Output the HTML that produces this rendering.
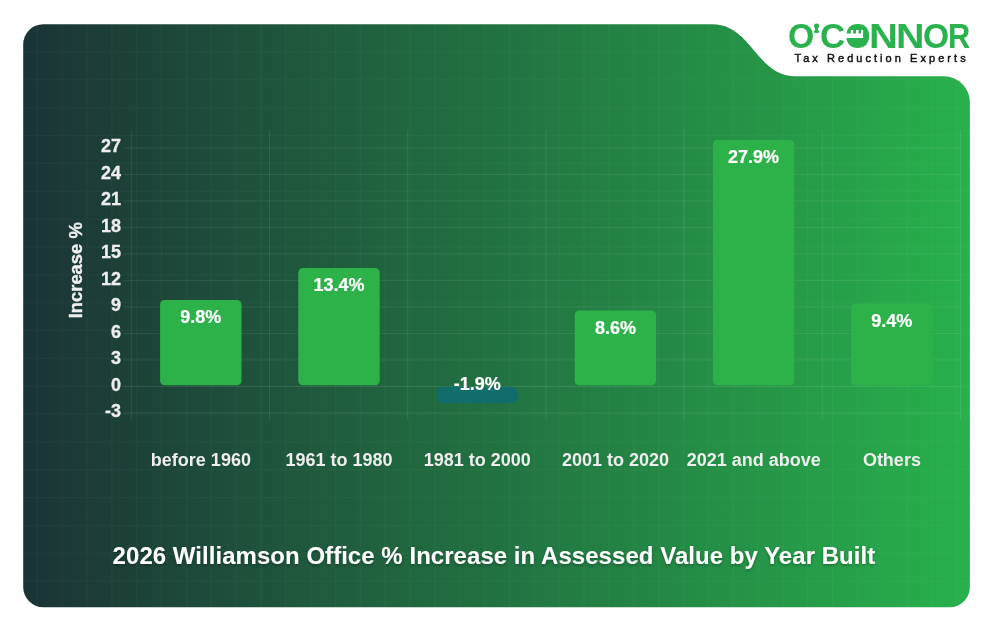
<!DOCTYPE html>
<html lang="en"><head><meta charset="utf-8"><title>2026 Williamson Office % Increase in Assessed Value by Year Built</title>
<style>
html,body{margin:0;padding:0;background:#fff;}
body{width:994px;height:632px;overflow:hidden;position:relative;}
svg{display:block;position:absolute;left:0;top:0;}
text{font-family:"Liberation Sans",Arial,sans-serif;font-weight:bold;}
.t{fill:#eeeeee;font-size:18px;}
.yl{stroke:#eeeeee;stroke-width:0.3px;}
.dl{fill:#ffffff;font-size:18px;text-anchor:middle;stroke:#ffffff;stroke-width:0.2px;}
.xl{text-anchor:middle;}
#logo{position:absolute;left:0;top:0;width:994px;height:80px;font:bold 34.6px/34px "Liberation Sans",Arial,sans-serif;color:#29b24d;}
#logo span{position:absolute;top:18.55px;transform-origin:0 0;display:block;white-space:pre;}
.yl{text-anchor:end;}
</style></head><body>
<svg width="994" height="632" viewBox="0 0 994 632">
<defs>
<linearGradient id="bg" x1="23" y1="0" x2="970" y2="0" gradientUnits="userSpaceOnUse">
<stop offset="0" stop-color="#1b3336"/><stop offset="1" stop-color="#28b14c"/>
</linearGradient>
<pattern id="grid" x="36.8" y="51.5" width="24.85" height="27.85" patternUnits="userSpaceOnUse">
<path d="M0.5 0V27.85M0 0.5H24.85" stroke="#ffffff" stroke-opacity="0.03" stroke-width="1" fill="none"/>
</pattern>
<clipPath id="card"><path id="cardp" d="M43.2 24.3H712C752 24.3 756 76.3 796 76.3H943.9A26 26 0 0 1 969.9 102.3V587.2A20 20 0 0 1 949.9 607.2H43.2A20 20 0 0 1 23.2 587.2V44.3A20 20 0 0 1 43.2 24.3Z"/></clipPath>
<filter id="ts" x="-5%" y="-50%" width="110%" height="220%"><feDropShadow dx="0" dy="1.5" stdDeviation="1.5" flood-color="#000" flood-opacity="0.3"/></filter>
</defs>
<path d="M43.2 24.3H712C752 24.3 756 76.3 796 76.3H943.9A26 26 0 0 1 969.9 102.3V587.2A20 20 0 0 1 949.9 607.2H43.2A20 20 0 0 1 23.2 587.2V44.3A20 20 0 0 1 43.2 24.3Z" fill="url(#bg)"/>
<rect x="23" y="24" width="947" height="583" fill="url(#grid)" clip-path="url(#card)"/>
<path d="M123.3 147.90H960.5M123.3 174.41H960.5M123.3 200.91H960.5M123.3 227.42H960.5M123.3 253.92H960.5M123.3 280.43H960.5M123.3 306.93H960.5M123.3 333.44H960.5M123.3 359.94H960.5M123.3 386.45H960.5M123.3 412.95H960.5M131.30 130.2V419.8M269.50 130.2V419.8M407.70 130.2V419.8M545.90 130.2V419.8M684.10 130.2V419.8M822.30 130.2V419.8M960.50 130.2V419.8" stroke="#ffffff" stroke-opacity="0.09" stroke-width="1" fill="none"/>
<rect x="160.1" y="299.9" width="81.4" height="85.4" rx="4.6" ry="4.6" fill="#2db24a"/>
<rect x="298.3" y="268.1" width="81.4" height="117.2" rx="4.6" ry="4.6" fill="#2db24a"/>
<rect x="436.5" y="386.8" width="81.4" height="16.5" rx="6" ry="6" fill="#116d6c"/>
<rect x="574.7" y="310.5" width="81.4" height="74.8" rx="4.6" ry="4.6" fill="#2db24a"/>
<rect x="712.9" y="140.0" width="81.4" height="245.3" rx="4.6" ry="4.6" fill="#2db24a"/>
<rect x="851.1" y="303.4" width="81.4" height="81.8" rx="4.6" ry="4.6" fill="#2db24a"/>
<text class="t yl" x="121.0" y="152.2">27</text>
<text class="t yl" x="121.0" y="178.7">24</text>
<text class="t yl" x="121.0" y="205.2">21</text>
<text class="t yl" x="121.0" y="231.7">18</text>
<text class="t yl" x="121.0" y="258.2">15</text>
<text class="t yl" x="121.0" y="284.7">12</text>
<text class="t yl" x="121.0" y="311.2">9</text>
<text class="t yl" x="121.0" y="337.7">6</text>
<text class="t yl" x="121.0" y="364.2">3</text>
<text class="t yl" x="121.0" y="390.8">0</text>
<text class="t yl" x="121.0" y="417.3">-3</text>
<text class="t xl" x="200.9" y="465.5">before 1960</text>
<text class="t xl" x="339.1" y="465.5">1961 to 1980</text>
<text class="t xl" x="477.3" y="465.5">1981 to 2000</text>
<text class="t xl" x="615.5" y="465.5">2001 to 2020</text>
<text class="t xl" x="753.7" y="465.5">2021 and above</text>
<text class="t xl" x="891.9" y="465.5">Others</text>
<text class="dl" x="200.8" y="323.0">9.8%</text>
<text class="dl" x="339.0" y="291.2">13.4%</text>
<text class="dl" x="477.2" y="390.2">-1.9%</text>
<text class="dl" x="615.4" y="333.6">8.6%</text>
<text class="dl" x="753.6" y="163.1">27.9%</text>
<text class="dl" x="891.8" y="326.5">9.4%</text>
<text class="t" text-anchor="middle" style="font-size:18.4px" stroke="#f1f1f1" stroke-width="0.35" transform="translate(81.8 270.3) rotate(-90)">Increase %</text>
<text x="112.6" y="564" textLength="762.6" font-size="24" fill="#ffffff" filter="url(#ts)">2026 Williamson Office % Increase in Assessed Value by Year Built</text>
<circle cx="858" cy="35.9" r="10.5" fill="#29b24d"/>
<text x="794.6" y="61.5" font-size="11" fill="#111111" letter-spacing="3.05" style="font-weight:normal" stroke="#111111" stroke-width="0.45">Tax Reduction Experts</text>
</svg>
<div id="logo"><span style="left:787.59px;transform:scaleX(0.976)">O</span><span style="left:814.09px;transform:scaleX(0.594)">'</span><span style="left:819.75px;transform:scaleX(1.005)">C</span><span style="left:845.23px;transform:scaleX(0.951)">O</span><span style="left:869.07px;transform:scaleX(1.160)">N</span><span style="left:896.11px;transform:scaleX(1.140)">N</span><span style="left:923.10px;transform:scaleX(0.972)">O</span><span style="left:947.98px;transform:scaleX(0.892)">R</span></div>
<svg width="994" height="632" viewBox="0 0 994 632" style="pointer-events:none">
<circle cx="816.55" cy="26" r="2.55" fill="#29b24d"/>
<path d="M815.1 27.5H818L818.1 30.5L819.1 31.3V32.8H814V31.3L815 30.5Z" fill="#29b24d"/>
<path d="M845 33.4H850.8V30H853.2V33.4H856V30H858.5V33.4H861.1V30H863.1V37.9H845Z" fill="#ffffff"/>
</svg>
</body></html>
